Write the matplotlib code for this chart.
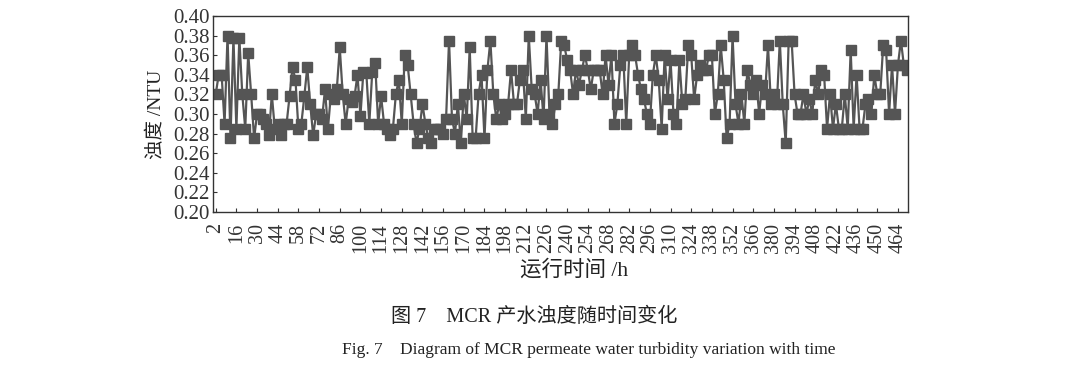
import numpy as np
import matplotlib
matplotlib.use("Agg")
import matplotlib.pyplot as plt

plt.rcParams['font.family'] = ['Liberation Serif', 'Noto Sans CJK SC', 'DejaVu Sans']

hours = np.arange(2, 471, 2)
turbidity = [
    0.320, 0.340, 0.340, 0.290, 0.380, 0.275, 0.378, 0.285, 0.378, 0.320,
    0.285, 0.362, 0.320, 0.275, 0.300, 0.300, 0.295, 0.290, 0.278, 0.320,
    0.285, 0.290, 0.278, 0.290, 0.290, 0.318, 0.348, 0.335, 0.285, 0.290,
    0.318, 0.348, 0.310, 0.278, 0.300, 0.300, 0.295, 0.325, 0.285, 0.320,
    0.315, 0.325, 0.368, 0.320, 0.290, 0.315, 0.312, 0.318, 0.340, 0.298,
    0.343, 0.342, 0.290, 0.343, 0.352, 0.290, 0.318, 0.290, 0.285, 0.278,
    0.285, 0.320, 0.335, 0.290, 0.360, 0.350, 0.320, 0.290, 0.270, 0.285,
    0.310, 0.290, 0.275, 0.270, 0.285, 0.285, 0.285, 0.280, 0.295, 0.375,
    0.295, 0.280, 0.310, 0.270, 0.320, 0.295, 0.368, 0.275, 0.275, 0.320,
    0.340, 0.275, 0.345, 0.375, 0.320, 0.295, 0.310, 0.295, 0.300, 0.310,
    0.345, 0.310, 0.310, 0.335, 0.345, 0.295, 0.380, 0.325, 0.320, 0.300,
    0.335, 0.295, 0.380, 0.300, 0.290, 0.310, 0.320, 0.375, 0.370, 0.355,
    0.345, 0.320, 0.345, 0.330, 0.345, 0.360, 0.345, 0.325, 0.345, 0.345,
    0.345, 0.320, 0.360, 0.330, 0.360, 0.290, 0.310, 0.350, 0.360, 0.290,
    0.360, 0.370, 0.360, 0.340, 0.325, 0.315, 0.300, 0.290, 0.340, 0.360,
    0.335, 0.285, 0.360, 0.315, 0.355, 0.300, 0.290, 0.355, 0.310, 0.315,
    0.370, 0.360, 0.315, 0.340, 0.350, 0.345, 0.345, 0.360, 0.360, 0.300,
    0.320, 0.370, 0.335, 0.275, 0.290, 0.380, 0.310, 0.290, 0.320, 0.290,
    0.345, 0.330, 0.320, 0.335, 0.300, 0.330, 0.320, 0.370, 0.310, 0.320,
    0.310, 0.375, 0.310, 0.270, 0.375, 0.375, 0.320, 0.300, 0.300, 0.320,
    0.300, 0.315, 0.300, 0.335, 0.320, 0.345, 0.340, 0.285, 0.320, 0.285,
    0.310, 0.285, 0.285, 0.320, 0.285, 0.365, 0.285, 0.340, 0.285, 0.285,
    0.310, 0.315, 0.300, 0.340, 0.320, 0.320, 0.370, 0.365, 0.300, 0.350,
    0.300, 0.350, 0.375, 0.350, 0.345,
]
xticks = list(range(2, 465, 14))
yticks = [0.20, 0.22, 0.24, 0.26, 0.28, 0.30, 0.32, 0.34, 0.36, 0.38, 0.40]

fig = plt.figure(figsize=(10.8, 3.73), dpi=100)
ax = fig.add_axes([0.197, 0.432, 0.644, 0.525])

ax.plot(hours, turbidity, color='#555555', lw=1.6, marker='s', ms=6.5,
        mfc='#555555', mec='#555555')

ax.set_xlim(0, 471)
ax.set_ylim(0.20, 0.40)
ax.set_xticks(xticks)
ax.set_xticklabels([str(t) for t in xticks], rotation=90, fontsize=14.5)
ax.set_yticks(yticks)
ax.set_yticklabels([f"{v:.2f}" for v in yticks], fontsize=15)
ax.tick_params(direction='in', length=3, width=0.8, colors='#333333', pad=2)
ax.tick_params(axis='x', pad=8)
for s in ax.spines.values():
    s.set_color('#333333')
    s.set_linewidth(1.0)

ax.set_ylabel('浊度 /NTU', fontsize=14, color='#222222', labelpad=6)
ax.set_xlabel('运行时间 /h', fontsize=15.5, color='#222222', labelpad=6)
ax.xaxis.set_label_coords(0.52, -0.245)

fig.text(0.495, 0.148, '图 7　MCR 产水浊度随时间变化', ha='center', va='center',
         fontsize=14.5, color='#222222')
fig.text(0.545, 0.063, 'Fig. 7　Diagram of MCR permeate water turbidity variation with time',
         ha='center', va='center', fontsize=12.5, color='#222222')

fig.savefig('out.png', dpi=100, facecolor='white')
